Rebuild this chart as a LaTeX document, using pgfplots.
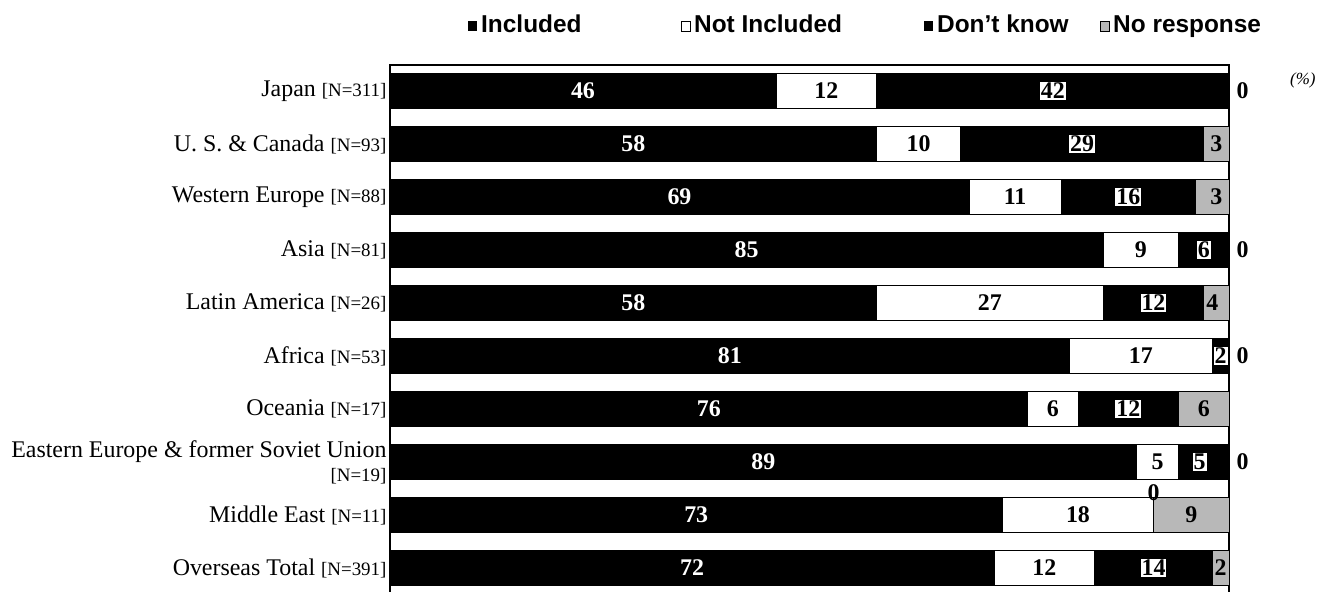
\documentclass[border=0pt]{standalone}
\usepackage{fontspec}
\setmainfont{Liberation Serif}
\newfontfamily\legfont{Liberation Sans}
\usepackage{pgfplots}
\pgfplotsset{compat=1.18}
\usepackage{pgfplotstable}

\pgfplotstableread{
y inc not dk nr
0 46 12 42 0
1 58 10 29 3
2 69 11 16 3
3 85 9 6 0
4 58 27 12 4
5 81 17 2 0
6 76 6 12 6
7 89 5 5 0
8 73 18 0 9
9 72 12 14 2
}\data

\newcommand\valfont{\fontsize{24}{24}\selectfont\bfseries}
\newcommand\nl[1]{{\fontsize{19}{20}\selectfont[N=#1]}}

\begin{document}
\begin{tikzpicture}
\begin{axis}[
  at={(390bp,-65bp)}, anchor=north west,
  scale only axis, width=839bp, height=534.8bp,
  xmin=0, xmax=100, ymin=-0.49, ymax=9.6, y dir=reverse,
  xtick=\empty, ytick={0,...,9},
  yticklabels={{Japan \nl{311}},{U. S. \& Canada \nl{93}},{Western Europe \nl{88}},{Asia \nl{81}},{Latin America \nl{26}},{Africa \nl{53}},{Oceania \nl{17}},{Eastern Europe \& former Soviet Union\\\nl{19}},{Middle East \nl{11}},{Overseas Total \nl{391}}},
  major tick length=0pt,
  yticklabel style={font=\fontsize{24}{24}\selectfont, align=right},
  axis line style={line width=1.4bp},
  clip=false,
  /pgf/number format/assume math mode=true,
  every axis plot/.append style={line width=0.8bp},
]
% bars, drawn as overlapping layers from the total down
\addplot[xbar, bar shift=0pt, bar width=0.66, fill=black!28, draw=black] table[x expr=100, y=y]{\data};
\addplot[xbar, bar shift=0pt, bar width=0.66, fill=black, draw=black] table[x expr={ifthenelse(\thisrow{nr}>0,\thisrow{inc}+\thisrow{not}+\thisrow{dk},100)}, y=y]{\data};
\addplot[xbar, bar shift=0pt, bar width=0.66, fill=white, draw=black] table[x expr=\thisrow{inc}+\thisrow{not}, y=y]{\data};
\addplot[xbar, bar shift=0pt, bar width=0.66, fill=black, draw=black] table[x=inc, y=y]{\data};
% labels
\addplot[draw=none, mark=none, point meta=explicit, nodes near coords,
  every node near coord/.append style={anchor=center, text=white, font=\valfont}]
  table[x expr=\thisrow{inc}/2, y=y, meta=inc]{\data};
\addplot[draw=none, mark=none, point meta=explicit, nodes near coords,
  every node near coord/.append style={anchor=center, text=black, font=\valfont}]
  table[x expr=\thisrow{inc}+\thisrow{not}/2, y=y, meta=not]{\data};
\addplot[draw=none, mark=none, point meta=explicit, nodes near coords,
  restrict expr to domain={\thisrow{dk}}{0.5:1000},
  every node near coord/.append style={anchor=center, text=black, fill=white, inner sep=1pt, font=\valfont}]
  table[x expr=\thisrow{inc}+\thisrow{not}+\thisrow{dk}/2, y=y, meta=dk]{\data};
\addplot[draw=none, mark=none, point meta=explicit, nodes near coords,
  restrict expr to domain={\thisrow{nr}}{0.5:1000},
  every node near coord/.append style={anchor=center, text=black, font=\valfont}]
  table[x expr=100-\thisrow{nr}/2, y=y, meta=nr]{\data};
\addplot[draw=none, mark=none, point meta=explicit, nodes near coords,
  restrict expr to domain={\thisrow{nr}}{-1:0.5},
  every node near coord/.append style={anchor=west, xshift=4bp, text=black, font=\valfont}]
  table[x expr=100, y=y, meta=nr]{\data};
\addplot[draw=none, mark=none, point meta=explicit, nodes near coords,
  restrict expr to domain={\thisrow{dk}}{-1:0.5},
  every node near coord/.append style={anchor=south, yshift=14bp, inner sep=0pt, text=black, font=\valfont}]
  table[x expr=\thisrow{inc}+\thisrow{not}, y=y, meta=dk]{\data};
\end{axis}
% legend
\begin{scope}[font=\legfont\bfseries\fontsize{24.5}{25}\selectfont]
\fill[black] (468bp,-31bp) rectangle (477bp,-21bp);
\node[anchor=base west, inner sep=0pt] at (481bp,-32bp) {Included};
\draw[black, line width=0.8bp, fill=white] (681bp,-31bp) rectangle (690bp,-21bp);
\node[anchor=base west, inner sep=0pt] at (694bp,-32bp) {Not Included};
\fill[black] (924bp,-31bp) rectangle (933bp,-21bp);
\node[anchor=base west, inner sep=0pt] at (937bp,-32bp) {Don’t know};
\draw[black, line width=0.8bp, fill=black!28] (1100bp,-31bp) rectangle (1109bp,-21bp);
\node[anchor=base west, inner sep=0pt] at (1113bp,-32bp) {No response};
\end{scope}
\node[anchor=base west, inner sep=0pt, font=\fontsize{17}{18}\selectfont\itshape] at (1290bp,-84bp) {(\%)};
\pgfresetboundingbox
\path[use as bounding box] (0,0) rectangle (1327bp,-592bp);
\end{tikzpicture}
\end{document}
